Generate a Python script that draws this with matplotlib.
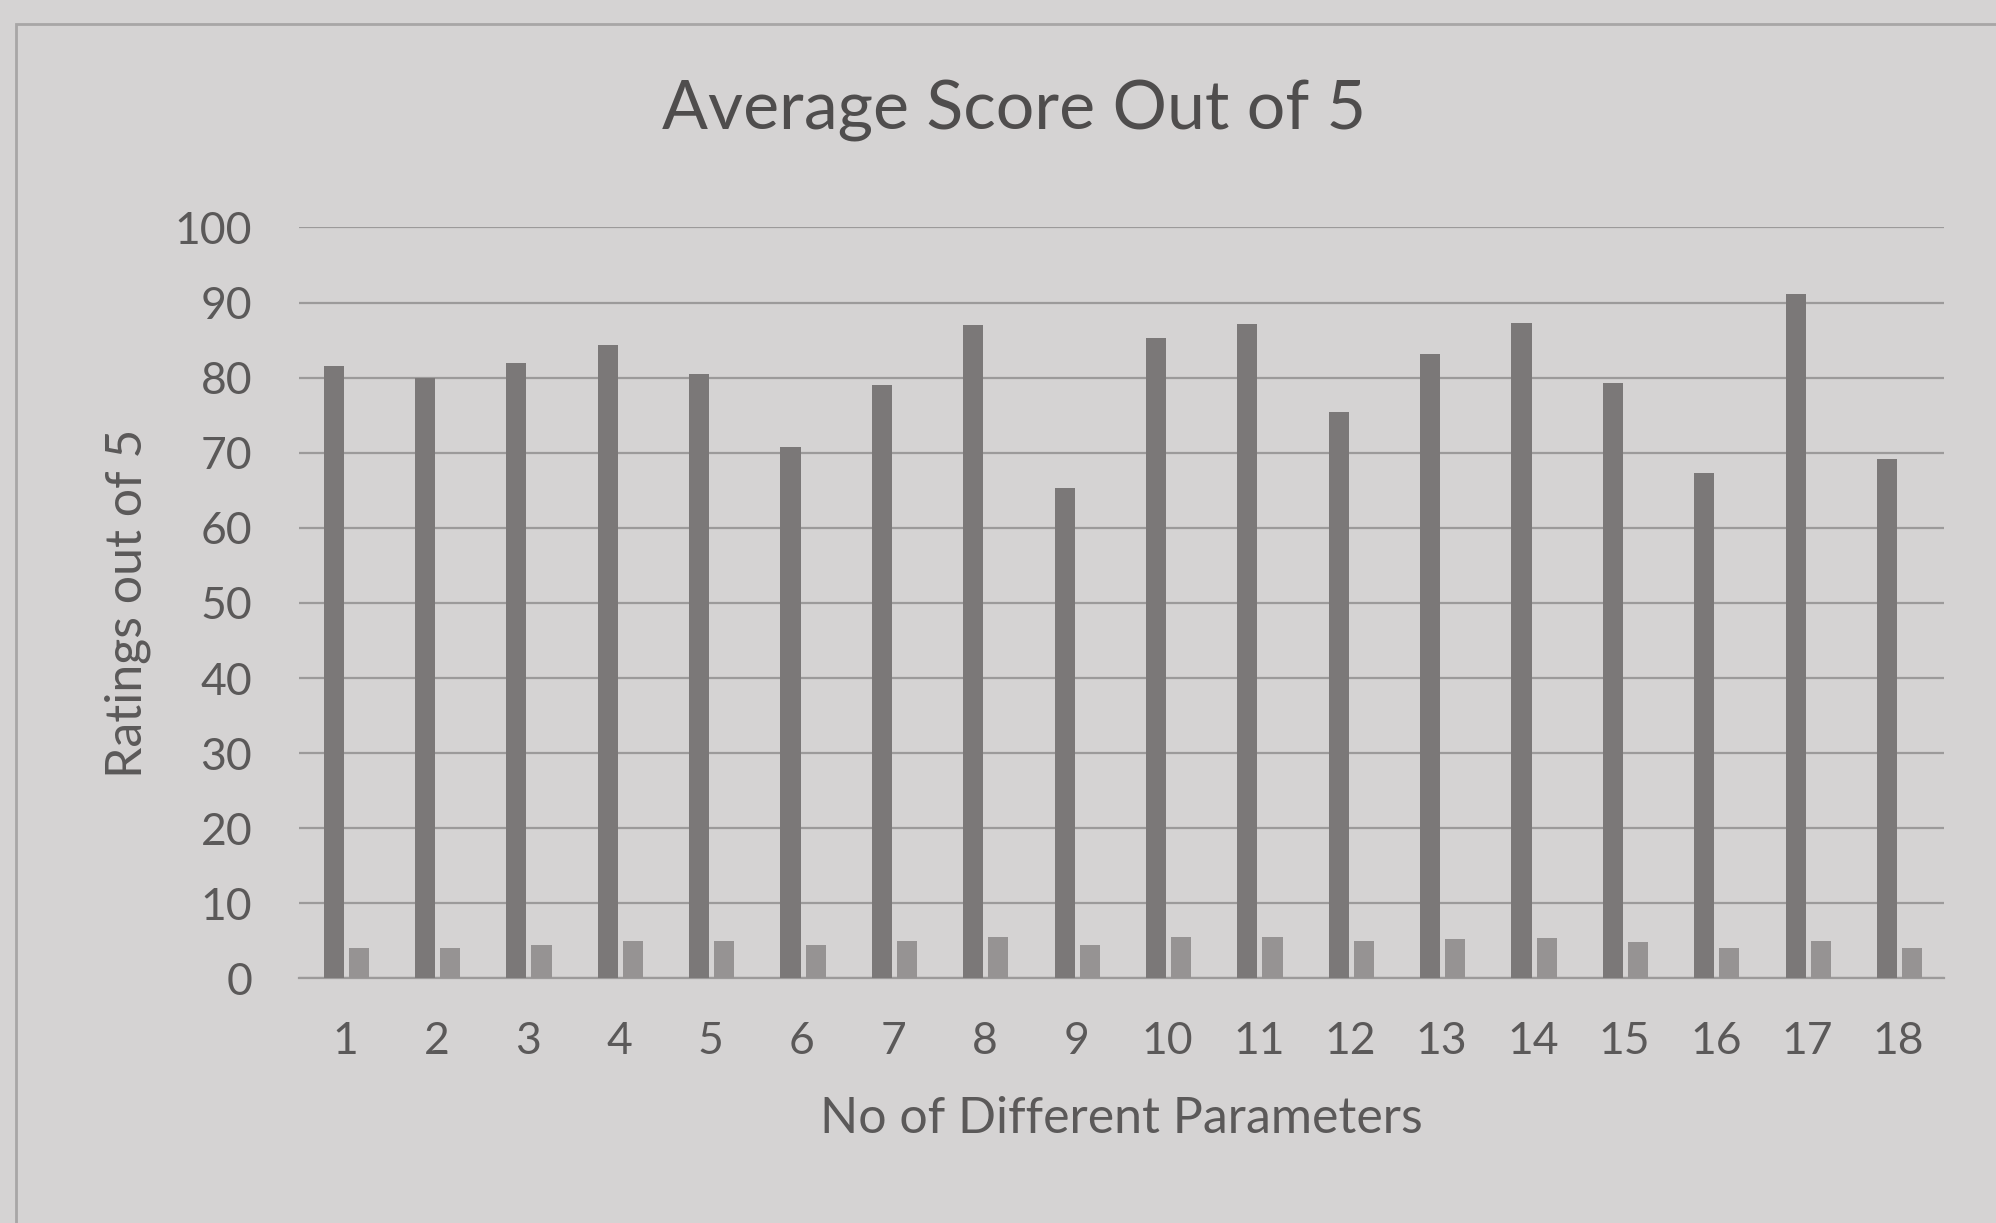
import numpy as np
import matplotlib
matplotlib.use("Agg")
from matplotlib import pyplot as plt
from matplotlib.patches import Rectangle

# values
params = list(range(1, 19))
ratings = [81.5, 80, 82, 84.4, 80.5, 70.8, 79, 87, 65.3, 85.3, 87.1, 75.4, 83.2, 87.3, 79.3, 67.3, 91.2, 69.2]
avg_score = [4, 4, 4.5, 5, 5, 4.5, 5, 5.5, 4.5, 5.5, 5.5, 5, 5.3, 5.4, 4.8, 4.1, 5, 4]
yticks = list(range(0, 101, 10))

bg = '#d5d3d3'
txt = '#5b5959'
plt.rcParams['font.family'] = ['Lato', 'DejaVu Sans']

fig = plt.figure(figsize=(19.96, 12.23), dpi=100, facecolor=bg)
ax = fig.add_axes([0.150, 0.200, 0.824, 0.614])
ax.set_facecolor(bg)

x = np.arange(len(params))
ax.bar(x - 0.125, ratings, width=0.22, color='#7b7878', zorder=3)
ax.bar(x + 0.15, avg_score, width=0.22, color='#969393', zorder=3)

ax.set_ylim(0, 100)
ax.set_xlim(-0.5, len(params) - 0.5)
ax.set_yticks(yticks)
ax.set_xticks(x)
ax.set_xticklabels([str(p) for p in params])
ax.grid(axis='y', color='#9c9a9a', linewidth=1.6, zorder=0)
for s in ['top', 'right', 'left']:
    ax.spines[s].set_visible(False)
ax.spines['bottom'].set_color('#9c9a9a')
ax.spines['bottom'].set_linewidth(1.6)
ax.tick_params(length=0, labelsize=32, labelcolor=txt)
ax.tick_params(axis='y', pad=34)
ax.tick_params(axis='x', pad=31)

# title is centred on the whole chart, not the plot area
fig.text(0.508, 0.909, 'Average Score Out of 5', fontsize=49, color='#4f4d4d',
         ha='center', va='center')
ax.set_xlabel('No of Different Parameters', fontsize=36, color=txt, labelpad=24)
ax.set_ylabel('Ratings out of 5', fontsize=36, color=txt, labelpad=17)

# chart frame
fig.patches.append(Rectangle((0.008, -0.05), 1.1, 1.03, transform=fig.transFigure,
                             fill=False, edgecolor='#a8a6a6', linewidth=2))

fig.savefig('out.png', dpi=100, facecolor=bg)
